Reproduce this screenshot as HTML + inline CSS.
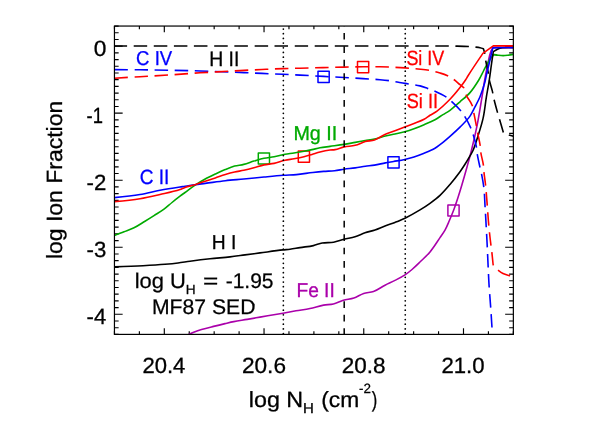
<!DOCTYPE html><html><head><meta charset="utf-8"><style>html,body{margin:0;padding:0;background:#fff;overflow:hidden}#w{width:595px;height:425px;will-change:transform}svg{display:block}text{font-family:"Liberation Sans",sans-serif;text-rendering:geometricPrecision}</style></head><body><div id="w">
<svg width="595" height="425" viewBox="0 0 595 425">
<rect width="595" height="425" fill="#fff"/>
<defs><clipPath id="c"><rect x="114.45" y="26.05" width="398.90" height="308.35"/></clipPath></defs>
<path d="M114.45,334.4v-3.1M114.45,26.05v3.1M139.38,334.4v-3.1M139.38,26.05v3.1M164.31,334.4v-6.2M164.31,26.05v6.2M189.24,334.4v-3.1M189.24,26.05v3.1M214.17,334.4v-3.1M214.17,26.05v3.1M239.11,334.4v-3.1M239.11,26.05v3.1M264.04,334.4v-6.2M264.04,26.05v6.2M288.97,334.4v-3.1M288.97,26.05v3.1M313.90,334.4v-3.1M313.90,26.05v3.1M338.83,334.4v-3.1M338.83,26.05v3.1M363.76,334.4v-6.2M363.76,26.05v6.2M388.69,334.4v-3.1M388.69,26.05v3.1M413.63,334.4v-3.1M413.63,26.05v3.1M438.56,334.4v-3.1M438.56,26.05v3.1M463.49,334.4v-6.2M463.49,26.05v6.2M488.42,334.4v-3.1M488.42,26.05v3.1M513.35,334.4v-3.1M513.35,26.05v3.1M114.45,334.40h4.2M513.35,334.40h-4.2M114.45,327.70h4.2M513.35,327.70h-4.2M114.45,320.99h4.2M513.35,320.99h-4.2M114.45,314.29h8.2M513.35,314.29h-8.2M114.45,307.59h4.2M513.35,307.59h-4.2M114.45,300.88h4.2M513.35,300.88h-4.2M114.45,294.18h4.2M513.35,294.18h-4.2M114.45,287.48h4.2M513.35,287.48h-4.2M114.45,280.77h4.2M513.35,280.77h-4.2M114.45,274.07h4.2M513.35,274.07h-4.2M114.45,267.37h4.2M513.35,267.37h-4.2M114.45,260.66h4.2M513.35,260.66h-4.2M114.45,253.96h4.2M513.35,253.96h-4.2M114.45,247.26h8.2M513.35,247.26h-8.2M114.45,240.55h4.2M513.35,240.55h-4.2M114.45,233.85h4.2M513.35,233.85h-4.2M114.45,227.15h4.2M513.35,227.15h-4.2M114.45,220.44h4.2M513.35,220.44h-4.2M114.45,213.74h4.2M513.35,213.74h-4.2M114.45,207.04h4.2M513.35,207.04h-4.2M114.45,200.33h4.2M513.35,200.33h-4.2M114.45,193.63h4.2M513.35,193.63h-4.2M114.45,186.93h4.2M513.35,186.93h-4.2M114.45,180.22h8.2M513.35,180.22h-8.2M114.45,173.52h4.2M513.35,173.52h-4.2M114.45,166.82h4.2M513.35,166.82h-4.2M114.45,160.12h4.2M513.35,160.12h-4.2M114.45,153.41h4.2M513.35,153.41h-4.2M114.45,146.71h4.2M513.35,146.71h-4.2M114.45,140.01h4.2M513.35,140.01h-4.2M114.45,133.30h4.2M513.35,133.30h-4.2M114.45,126.60h4.2M513.35,126.60h-4.2M114.45,119.90h4.2M513.35,119.90h-4.2M114.45,113.19h8.2M513.35,113.19h-8.2M114.45,106.49h4.2M513.35,106.49h-4.2M114.45,99.79h4.2M513.35,99.79h-4.2M114.45,93.08h4.2M513.35,93.08h-4.2M114.45,86.38h4.2M513.35,86.38h-4.2M114.45,79.68h4.2M513.35,79.68h-4.2M114.45,72.97h4.2M513.35,72.97h-4.2M114.45,66.27h4.2M513.35,66.27h-4.2M114.45,59.57h4.2M513.35,59.57h-4.2M114.45,52.86h4.2M513.35,52.86h-4.2M114.45,46.16h8.2M513.35,46.16h-8.2M114.45,39.46h4.2M513.35,39.46h-4.2M114.45,32.75h4.2M513.35,32.75h-4.2M114.45,26.05h4.2M513.35,26.05h-4.2" stroke="#000" stroke-width="1.15" fill="none"/>
<g clip-path="url(#c)" fill="none" stroke-width="1.6" stroke-linejoin="round">
<rect x="447.9" y="204.9" width="11.2" height="11.2" stroke="#aa00aa" stroke-width="1.5"/>
<rect x="258.3" y="152.9" width="11.2" height="11.2" stroke="#00aa00" stroke-width="1.5"/>
<rect x="387.9" y="156.7" width="11.2" height="11.2" stroke="#0000ff" stroke-width="1.5"/>
<rect x="318.0" y="71.2" width="11.2" height="11.2" stroke="#0000ff" stroke-width="1.5"/>
<rect x="298.3" y="151.0" width="11.2" height="11.2" stroke="#ff0000" stroke-width="1.5"/>
<rect x="357.5" y="61.5" width="11.2" height="11.2" stroke="#ff0000" stroke-width="1.5"/>
<path d="M188.7,334.5 C188.70,334.50 192.85,332.52 195,331.7 C197.13,330.89 199.32,330.24 201.5,329.6 C205.50,328.42 209.56,327.43 213.6,326.4 C217.39,325.43 221.19,324.50 225,323.6 C227.93,322.91 230.85,322.18 233.8,321.6 C238.24,320.73 242.74,320.17 247.2,319.4 C251.47,318.67 255.73,317.85 260,317.1 C267.66,315.76 275.34,314.56 283,313.2 C287.34,312.43 291.66,311.56 296,310.8 C300.66,309.99 305.37,309.46 310,308.5 C314.58,307.55 319.00,305.93 323.6,305.1 C326.84,304.52 330.20,304.76 333.4,304 C336.83,303.18 339.92,301.29 343.3,300.3 C346.77,299.28 350.48,299.16 353.9,298 C357.32,296.84 360.27,294.52 363.7,293.4 C366.86,292.37 370.37,292.63 373.5,291.5 C377.61,290.02 381.11,287.20 385,285.2 C388.29,283.51 391.71,282.09 395,280.4 C398.38,278.66 401.82,276.98 405,274.9 C407.47,273.29 409.76,271.41 412,269.5 C414.78,267.13 417.38,264.55 420,262 C423.40,258.70 426.96,255.54 430,251.9 C433.73,247.43 436.72,242.40 440,237.6 C441.69,235.12 443.54,232.72 445,230.1 C446.71,227.03 448.00,223.73 449.4,220.5 C450.87,217.13 452.30,213.74 453.6,210.3 C455.19,206.08 456.60,201.79 458,197.5 C459.40,193.19 460.71,188.85 462,184.5 C463.73,178.68 465.38,172.85 467,167 C468.48,161.68 469.97,156.36 471.3,151 C473.40,142.51 475.38,133.98 477.1,125.4 C478.59,117.97 479.75,110.47 481,103 C482.28,95.34 483.34,87.65 484.7,80 C485.71,74.32 486.75,68.64 488,63 C488.89,58.97 489.48,54.83 491,51 C491.45,49.86 492.80,47.80 492.8,47.8 C492.80,47.80 513.40,47.60 513.4,47.6" stroke="#aa00aa"/>
<path d="M114.4,235.4 C114.40,235.40 120.81,233.03 124,231.8 C127.35,230.50 130.78,229.40 134,227.8 C137.83,225.90 141.35,223.43 145,221.2 C148.02,219.36 151.01,217.49 154,215.6 C157.35,213.49 160.81,211.54 164,209.2 C166.80,207.14 169.30,204.69 172,202.5 C174.63,200.36 177.30,198.26 180,196.2 C181.65,194.94 183.33,193.73 185,192.5 C188.36,190.03 191.63,187.41 195.1,185.1 C198.37,182.92 201.75,180.89 205.2,179 C208.49,177.19 211.90,175.60 215.3,174 C218.61,172.44 221.91,170.88 225.3,169.5 C228.36,168.26 231.42,166.97 234.6,166.1 C237.61,165.28 240.78,165.17 243.8,164.4 C247.23,163.53 250.51,162.14 253.9,161.1 C257.25,160.07 260.57,158.93 264,158.2 C267.33,157.50 270.76,157.41 274.1,156.8 C277.77,156.13 281.34,154.98 285,154.3 C287.98,153.74 291.01,153.49 294,153 C297.34,152.46 300.67,151.83 304,151.2 C306.67,150.69 309.34,150.17 312,149.6 C314.67,149.03 317.31,148.29 320,147.8 C323.31,147.20 326.67,146.87 330,146.4 C334.73,145.74 339.48,145.16 344.2,144.4 C347.88,143.81 351.53,143.06 355.2,142.4 C358.57,141.79 361.93,141.19 365.3,140.6 C368.37,140.06 371.46,139.68 374.5,139 C378.18,138.18 381.74,136.88 385.4,136 C388.58,135.23 391.81,134.69 395,134 C398.24,133.30 401.50,132.68 404.7,131.8 C407.84,130.94 410.94,129.91 414,128.8 C417.41,127.56 420.76,126.14 424.1,124.7 C427.77,123.11 431.49,121.61 435,119.7 C437.78,118.19 440.32,116.28 443,114.6 C445.32,113.15 447.78,111.91 450,110.3 C453.54,107.73 456.72,104.70 460,101.8 C463.39,98.80 467.02,96.01 470,92.6 C473.37,88.74 476.14,84.38 478.8,80 C480.56,77.11 481.94,74.01 483.5,71 C484.74,68.60 485.87,66.15 487.2,63.8 C488.23,61.99 489.27,60.18 490.5,58.5 C491.50,57.12 493.80,54.60 493.8,54.6 C493.80,54.60 496.59,55.05 498,55.2 C499.73,55.39 501.46,55.61 503.2,55.6 C504.81,55.59 506.41,55.38 508,55.2 C509.81,54.99 513.40,54.40 513.4,54.4" stroke="#00aa00"/>
<path d="M114.4,266.9 C114.40,266.90 133.47,266.20 143,265.7 C150.34,265.31 157.68,264.90 165,264.3 C169.34,263.94 173.68,263.54 178,263.0 C182.01,262.50 185.99,261.75 190,261.2 C196.66,260.28 203.32,259.42 210,258.7 C216.66,257.98 223.35,257.64 230,256.9 C235.01,256.34 240.00,255.57 245,254.9 C250.00,254.23 255.00,253.56 260,252.9 C267.67,251.89 275.31,250.73 283,249.9 C285.33,249.65 287.68,249.60 290,249.3 C293.35,248.87 296.66,248.13 300,247.6 C304.46,246.89 308.99,246.58 313.4,245.6 C316.39,244.94 319.19,243.54 322.2,243.0 C325.95,242.32 329.85,242.86 333.6,242.2 C337.15,241.57 340.50,240.09 344,239.2 C347.64,238.28 351.41,237.90 355,236.8 C358.43,235.75 361.60,233.95 365,232.8 C368.28,231.69 371.72,231.11 375,230 C378.40,228.85 381.64,227.27 385,226 C388.31,224.74 391.70,223.69 395,222.4 C398.37,221.09 401.75,219.78 405,218.2 C410.14,215.71 415.11,212.86 420,209.9 C423.42,207.83 426.76,205.64 430,203.3 C433.44,200.81 436.89,198.29 440,195.4 C443.61,192.04 446.81,188.26 450,184.5 C453.49,180.40 456.84,176.16 460,171.8 C461.76,169.37 463.40,166.84 465,164.3 C466.74,161.54 468.38,158.72 470,155.9 C471.03,154.12 472.16,152.38 473,150.5 C475.08,145.83 476.46,140.87 478,136 C479.81,130.28 481.70,124.56 483,118.7 C484.60,111.49 485.20,104.09 486.4,96.8 C487.32,91.19 488.43,85.62 489.3,80 C490.12,74.68 490.75,69.33 491.5,64 C492.08,59.86 493.30,51.60 493.3,51.6 C493.30,51.60 496.02,49.83 497.5,49.2 C499.00,48.56 500.59,48.06 502.2,47.8 C505.89,47.21 513.40,47.50 513.4,47.5" stroke="#000"/>
<path d="M114.4,46 C114.40,46.00 238.13,46.00 300,46 C346.67,46.00 393.33,45.85 440,46 C445.20,46.02 450.40,46.00 455.6,46.1 C460.00,46.18 464.41,46.23 468.8,46.5 C471.01,46.63 473.21,46.83 475.4,47.1 C476.94,47.29 478.49,47.46 480,47.8 C481.15,48.06 483.40,48.80 483.4,48.8 C483.40,48.80 484.22,51.24 484.5,52.5 C485.13,55.30 485.29,58.18 485.8,61 C486.47,64.69 487.44,68.31 488.1,72 C488.58,74.65 488.74,77.36 489.3,80 C490.08,83.69 491.43,87.23 492.3,90.9 C492.96,93.68 493.35,96.52 494,99.3 C495.06,103.83 496.34,108.32 497.6,112.8 C498.30,115.31 499.07,117.80 499.8,120.3 C501.00,124.40 503.40,132.60 503.4,132.6 C503.40,132.60 504.50,133.60 504.5,133.6 C504.50,133.60 506.96,134.42 508.2,134.8 C509.92,135.33 513.40,136.30 513.4,136.3" stroke="#000" stroke-dasharray="13.5 6.6" stroke-dashoffset="0.7"/>
<path d="M114.4,197.6 C114.40,197.60 131.52,195.90 140,194.5 C146.72,193.39 153.30,191.55 160,190.3 C166.64,189.06 173.32,188.02 180,187 C181.66,186.75 183.34,186.55 185,186.3 C188.37,185.80 191.73,185.18 195.1,184.7 C198.46,184.22 201.83,183.84 205.2,183.4 C211.90,182.52 218.58,181.46 225.3,180.7 C231.45,180.00 237.64,179.59 243.8,179 C250.54,178.36 257.26,177.63 264,177 C270.43,176.40 276.86,175.76 283.3,175.3 C287.66,174.99 292.04,174.99 296.4,174.6 C301.89,174.10 307.32,173.13 312.8,172.5 C316.43,172.08 320.06,171.70 323.7,171.4 C327.33,171.10 330.98,171.10 334.6,170.7 C337.82,170.35 340.99,169.64 344.2,169.2 C347.86,168.70 351.54,168.41 355.2,167.9 C358.58,167.43 361.93,166.79 365.3,166.3 C368.36,165.86 371.45,165.61 374.5,165.1 C378.16,164.49 381.76,163.58 385.4,162.9 C388.09,162.40 390.80,161.97 393.5,161.5 C397.24,160.84 401.00,160.33 404.7,159.5 C407.83,158.80 410.94,157.97 414,157 C417.42,155.92 420.78,154.67 424.1,153.3 C427.80,151.78 431.55,150.31 435,148.3 C436.78,147.27 438.38,145.96 440,144.7 C443.44,142.03 446.73,139.17 450,136.3 C453.40,133.31 456.81,130.31 460,127.1 C463.49,123.59 467.13,120.14 470,116.1 C472.02,113.25 473.39,110.00 475,106.9 C476.73,103.57 478.57,100.27 480,96.8 C482.01,91.90 483.62,86.82 485,81.7 C485.51,79.83 485.78,77.90 486.2,76 C487.24,71.32 488.40,66.67 489.5,62 C490.60,57.30 492.80,47.90 492.8,47.9 C492.80,47.90 494.93,47.65 496,47.6 C501.79,47.33 513.40,47.60 513.4,47.6" stroke="#0000ff"/>
<path d="M114.4,69.6 C114.40,69.60 131.47,69.70 140,69.8 C150.00,69.91 160.00,70.06 170,70.25 C180.00,70.44 190.00,70.66 200,70.95 C210.00,71.24 220.00,71.61 230,72.0 C240.67,72.42 251.33,72.94 262,73.4 C269.00,73.70 276.00,73.99 283,74.3 C288.67,74.55 294.33,74.81 300,75.1 C307.87,75.50 315.73,75.97 323.6,76.4 C330.40,76.77 337.20,77.12 344,77.5 C350.33,77.85 356.67,78.21 363,78.6 C368.67,78.95 374.34,79.21 380,79.7 C383.34,79.99 386.68,80.33 390,80.8 C395.02,81.51 400.00,82.55 405,83.4 C410.00,84.25 415.08,84.69 420,85.9 C422.59,86.54 425.08,87.52 427.6,88.4 C429.85,89.19 432.12,89.95 434.3,90.9 C438.30,92.65 442.34,94.41 446,96.8 C447.84,98.00 449.47,99.52 451.1,101 C454.32,103.94 457.48,106.97 460.3,110.3 C461.84,112.12 463.23,114.08 464.5,116.1 C466.71,119.63 468.69,123.31 470.4,127.1 C471.38,129.27 472.17,131.53 472.9,133.8 C474.23,137.94 475.48,142.13 476.3,146.4 C476.74,148.71 476.73,151.08 477.1,153.4 C477.78,157.63 478.77,161.81 479.7,166 C480.20,168.24 480.84,170.45 481.3,172.7 C482.33,177.77 483.30,182.86 483.9,188 C484.57,193.81 484.65,199.67 485,205.5 C485.31,210.67 485.61,215.83 485.9,221 C486.35,229.17 486.80,237.33 487.2,245.5 C487.53,252.23 487.78,258.97 488.1,265.7 C488.42,272.43 488.68,279.17 489.1,285.9 C489.52,292.64 490.13,299.36 490.6,306.1 C491.07,312.80 491.48,319.50 491.9,326.2 C492.07,328.97 492.40,334.50 492.4,334.5" stroke="#0000ff" stroke-dasharray="13.5 6.6"/>
<path d="M114.4,201.6 C114.40,201.60 131.52,200.07 140,198.7 C146.73,197.62 153.36,196.03 160,194.5 C166.70,192.96 173.48,191.67 180,189.5 C181.72,188.93 183.29,187.98 185,187.4 C188.30,186.27 191.77,185.72 195.1,184.7 C198.51,183.66 201.82,182.34 205.2,181.2 C208.56,180.07 211.94,179.02 215.3,177.9 C218.64,176.79 221.93,175.52 225.3,174.5 C228.37,173.57 231.47,172.71 234.6,172 C237.64,171.31 240.75,170.96 243.8,170.3 C247.19,169.57 250.55,168.70 253.9,167.8 C257.28,166.90 260.58,165.64 264,164.9 C267.33,164.18 270.77,164.12 274.1,163.4 C277.79,162.60 281.31,161.13 285,160.3 C287.97,159.63 291.01,159.36 294,158.8 C297.35,158.17 300.69,157.52 304,156.7 C306.69,156.03 309.34,155.18 312,154.4 C314.67,153.62 317.30,152.67 320,152 C323.30,151.18 326.63,150.47 330,150 C331.66,149.77 333.36,149.90 335,149.6 C338.14,149.02 341.08,147.58 344.2,146.9 C347.82,146.11 351.61,146.21 355.2,145.3 C358.68,144.42 361.84,142.55 365.3,141.6 C368.31,140.78 371.55,140.91 374.5,139.9 C378.37,138.58 381.66,135.94 385.4,134.3 C388.52,132.94 391.81,131.99 395,130.8 C398.24,129.59 401.48,128.36 404.7,127.1 C407.81,125.89 410.91,124.66 414,123.4 C417.38,122.03 420.88,120.91 424.1,119.2 C426.18,118.09 428.01,116.56 430,115.3 C432.30,113.85 434.82,112.72 437,111.1 C441.70,107.61 445.92,103.50 450,99.3 C453.57,95.62 456.83,91.63 460,87.6 C461.93,85.14 463.78,82.61 465.5,80 C466.36,78.70 467.07,77.31 467.9,76 C472.73,68.35 482.90,53.40 482.9,53.4 C482.90,53.40 493.30,45.90 493.3,45.9 C493.30,45.90 513.40,45.90 513.4,45.9" stroke="#ff0000"/>
<path d="M114.4,78.2 C114.40,78.20 131.47,77.21 140,76.7 C150.00,76.11 160.00,75.55 170,74.9 C180.00,74.25 189.99,73.42 200,72.8 C205.66,72.45 211.33,72.21 217,71.9 C224.67,71.48 232.33,71.01 240,70.6 C247.33,70.21 254.67,69.84 262,69.5 C269.00,69.18 276.00,68.83 283,68.6 C288.67,68.41 294.33,68.34 300,68.2 C307.67,68.01 315.33,67.79 323,67.6 C330.00,67.43 337.00,67.24 344,67.1 C350.33,66.97 356.67,66.85 363,66.8 C368.67,66.76 374.33,66.72 380,66.8 C383.33,66.85 386.67,66.96 390,67.1 C395.00,67.31 400.00,67.56 405,67.9 C409.34,68.20 413.67,68.56 418,69 C422.01,69.40 426.04,69.66 430,70.4 C433.39,71.03 436.71,71.99 440,73 C442.37,73.73 444.76,74.44 447,75.5 C449.64,76.75 452.13,78.30 454.5,80 C456.46,81.41 458.13,83.17 460,84.7 C461.21,85.69 463.70,87.60 463.7,87.6 C463.70,87.60 465.11,92.70 466.2,95.1 C467.81,98.65 470.67,101.57 472.1,105.2 C473.05,107.62 473.26,110.26 473.8,112.8 C474.68,116.99 475.51,121.19 476.3,125.4 C476.72,127.63 477.08,129.87 477.5,132.1 C478.35,136.58 479.55,140.99 480.2,145.5 C480.53,147.82 480.46,150.18 480.8,152.5 C481.42,156.74 482.81,160.85 483.4,165.1 C483.71,167.32 483.68,169.57 483.9,171.8 C484.33,176.05 485.05,180.26 485.5,184.5 C486.20,191.19 486.67,197.90 487.2,204.6 C487.63,210.06 487.95,215.54 488.4,221 C488.70,224.60 489.03,228.20 489.4,231.8 C489.85,236.17 490.37,240.54 490.9,244.9 C491.18,247.24 491.53,249.56 491.8,251.9 C492.29,256.09 493.10,264.50 493.1,264.5 C493.10,264.50 494.50,267.30 494.5,267.3 C494.50,267.30 496.33,268.87 497.3,269.6 C499.14,270.98 500.94,272.48 503,273.5 C504.92,274.45 507.04,274.92 509.1,275.5 C510.52,275.90 513.40,276.50 513.4,276.5" stroke="#ff0000" stroke-dasharray="13.5 6.6"/>
<line x1="283.35" y1="24.345" x2="283.35" y2="334.4" stroke="#000" stroke-width="1.75" stroke-linecap="round" stroke-dasharray="0.01 4.675"/>
<line x1="405.25" y1="24.345" x2="405.25" y2="334.4" stroke="#000" stroke-width="1.75" stroke-linecap="round" stroke-dasharray="0.01 4.675"/>
<line x1="344.2" y1="19.5" x2="344.2" y2="334.4" stroke="#000" stroke-width="1.5" stroke-dasharray="6.7 6.72"/>
</g>
<rect x="114.45" y="26.05" width="398.90" height="308.35" fill="none" stroke="#000" stroke-width="1.2"/>
<text id="t0" x="142.41" y="372.6" font-size="22" fill="#000" stroke="#000" stroke-width="0.3" textLength="42.93" lengthAdjust="spacingAndGlyphs">20.4</text>
<text id="t1" x="241.94" y="372.6" font-size="22" fill="#000" stroke="#000" stroke-width="0.3" textLength="44.03" lengthAdjust="spacingAndGlyphs">20.6</text>
<text id="t2" x="341.81" y="372.6" font-size="22" fill="#000" stroke="#000" stroke-width="0.3" textLength="43.77" lengthAdjust="spacingAndGlyphs">20.8</text>
<text id="t3" x="441.44" y="372.6" font-size="22" fill="#000" stroke="#000" stroke-width="0.3" textLength="43.14" lengthAdjust="spacingAndGlyphs">21.0</text>
<text id="t4" x="93.75" y="56.3" font-size="22" fill="#000" stroke="#000" stroke-width="0.3" textLength="12.65" lengthAdjust="spacingAndGlyphs">0</text>
<text id="t5" x="86.55" y="123.3" font-size="22" fill="#000" stroke="#000" stroke-width="0.3" textLength="16.36" lengthAdjust="spacingAndGlyphs">-1</text>
<text id="t6" x="86.55" y="190.3" font-size="22" fill="#000" stroke="#000" stroke-width="0.3" textLength="19.73" lengthAdjust="spacingAndGlyphs">-2</text>
<text id="t7" x="86.55" y="257.4" font-size="22" fill="#000" stroke="#000" stroke-width="0.3" textLength="19.73" lengthAdjust="spacingAndGlyphs">-3</text>
<text id="t8" x="86.55" y="324.4" font-size="22" fill="#000" stroke="#000" stroke-width="0.3" textLength="19.57" lengthAdjust="spacingAndGlyphs">-4</text>
<text id="t9" x="136.10" y="65.1" font-size="20" fill="#0000ff" stroke="#0000ff" stroke-width="0.3" textLength="36.06" lengthAdjust="spacingAndGlyphs">C IV</text>
<text id="t10" x="209.15" y="65.9" font-size="21" fill="#000" stroke="#000" stroke-width="0.3" textLength="30.16" lengthAdjust="spacingAndGlyphs">H II</text>
<text id="t11" x="406.40" y="64.7" font-size="20.6" fill="#ff0000" stroke="#ff0000" stroke-width="0.3" textLength="37.89" lengthAdjust="spacingAndGlyphs">Si IV</text>
<text id="t12" x="406.75" y="107.8" font-size="20.6" fill="#ff0000" stroke="#ff0000" stroke-width="0.3" textLength="31.24" lengthAdjust="spacingAndGlyphs">Si II</text>
<text id="t13" x="293.45" y="139.9" font-size="20" fill="#00aa00" stroke="#00aa00" stroke-width="0.3" textLength="43.81" lengthAdjust="spacingAndGlyphs">Mg II</text>
<text id="t14" x="139.75" y="183.5" font-size="20.7" fill="#0000ff" stroke="#0000ff" stroke-width="0.3" textLength="29.65" lengthAdjust="spacingAndGlyphs">C II</text>
<text id="t15" x="211.75" y="249.0" font-size="20" fill="#000" stroke="#000" stroke-width="0.3" textLength="24.60" lengthAdjust="spacingAndGlyphs">H I</text>
<text id="t16" x="296.45" y="297.3" font-size="20" fill="#aa00aa" stroke="#aa00aa" stroke-width="0.3" textLength="38.34" lengthAdjust="spacingAndGlyphs">Fe II</text>
<text id="t17" x="152.00" y="313.5" font-size="21.2" fill="#000" stroke="#000" stroke-width="0.25" textLength="103.42" lengthAdjust="spacingAndGlyphs">MF87 SED</text>
<text id="t18" x="134.70" y="287.55" font-size="21.1" fill="#000" stroke="#000" stroke-width="0.25" textLength="61.01" lengthAdjust="spacingAndGlyphs">log U<tspan font-size="13.2" dy="6.4">H</tspan></text>
<text id="t19" x="203.00" y="287.55" font-size="21.1" fill="#000" stroke="#000" stroke-width="0.25" textLength="15.31" lengthAdjust="spacingAndGlyphs">=</text>
<text id="t20" x="225.65" y="287.55" font-size="21.1" fill="#000" stroke="#000" stroke-width="0.25" textLength="47.94" lengthAdjust="spacingAndGlyphs">-1.95</text>
<text id="t21" x="248.75" y="406.9" font-size="22" fill="#000" stroke="#000" stroke-width="0.3" textLength="65.23" lengthAdjust="spacingAndGlyphs">log N<tspan font-size="14.2" dy="6.4">H</tspan></text>
<text id="t22" x="321.20" y="406.9" font-size="22" fill="#000" stroke="#000" stroke-width="0.3" textLength="37.94" lengthAdjust="spacingAndGlyphs">(cm</text>
<text id="t23" x="359.00" y="392.9" font-size="13.5" fill="#000" stroke="#000" stroke-width="0.25" textLength="11.96" lengthAdjust="spacingAndGlyphs">-2</text>
<text id="t24" x="371.85" y="406.9" font-size="22" fill="#000" stroke="#000" stroke-width="0.3" textLength="5.53" lengthAdjust="spacingAndGlyphs">)</text>
<text id="t25" transform="translate(61.8,259.10) rotate(-90)" font-size="22" fill="#000" stroke="#000" stroke-width="0.3" textLength="158.30" lengthAdjust="spacingAndGlyphs">log Ion Fraction</text>
</svg></div></body></html>
